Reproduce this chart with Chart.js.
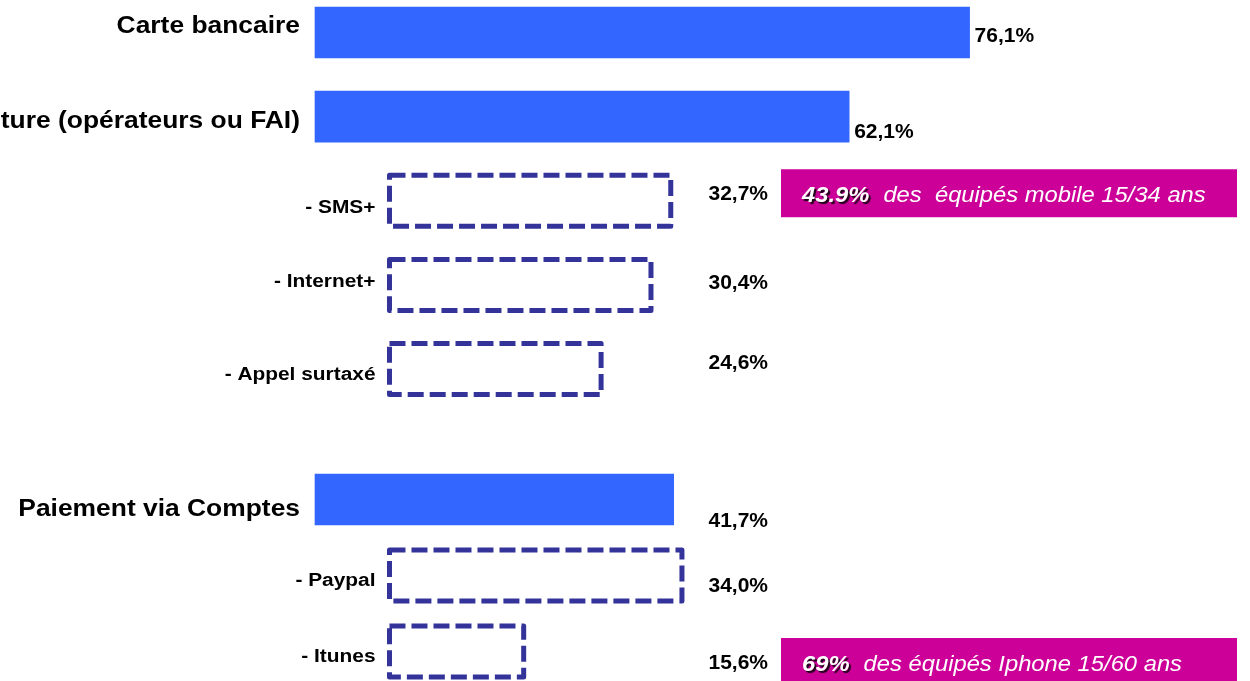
<!DOCTYPE html>
<html>
<head>
<meta charset="utf-8">
<script src="https://cdn.jsdelivr.net/npm/chart.js@4"></script>
<style>
  html, body { margin: 0; padding: 0; background: #fff; }
  #wrap { position: relative; width: 1250px; height: 681px; overflow: hidden; }
  #top-chart { position: absolute; left: 0; top: 0; }
  #bottom-chart { position: absolute; left: 0; top: 420px; }
</style>
</head>
<body>
<div id="wrap">
  <canvas id="top-chart" width="1250" height="420"></canvas>
  <canvas id="bottom-chart" width="1250" height="261"></canvas>
</div>
<script>
// Rows of the chart (solid bars = totals, dashed bars = details)
const categories = ['Carte bancaire', 'Facture (opérateurs ou FAI)', '- SMS+', '- Internet+', '- Appel surtaxé',
                    'Paiement via Comptes', '- Paypal', '- Itunes'];
const totals  = [76.1, 62.1, null, null, null, 41.7, null, null];
const details = [null, null, 32.7, 30.4, 24.6, null, 34.0, 15.6];
const groups  = [0, 0, 0, 0, 0, 1, 1, 1];

// Pink call-outs
const noteRows   = ['- SMS+', '- Itunes'];
const noteStrong = ['43.9%', '69%'];
const noteText   = ['des  équipés mobile 15/34 ans', 'des équipés Iphone 15/60 ans'];

const FONT = '"Liberation Sans", Arial, sans-serif';
const BLUE = '#3366FF';
const DASH = '#333399';
const PINK = '#CC0099';

// small vertical nudges (baseline vs bar centre), per row
const labelNudge = [0, 11, 12, 2, 11, 16, 10, 10];
const valueNudge = [9, 21, -1, 4, 0, 27, 16, 17];
const noteNudge = { '- SMS+': -31.5, '- Itunes': -13.5 };

function formatPct(v) {
    return v.toFixed(1).replace('.', ',') + '%';
}

function stretchText(ctx, text, x, y, font, sx, align) {
    ctx.save();
    ctx.font = font;
    ctx.textAlign = align;
    ctx.textBaseline = 'alphabetic';
    ctx.translate(x, y);
    ctx.scale(sx, 1);
    ctx.fillText(text, 0, 0);
    ctx.restore();
}

const rowLabels = {
    id: 'rowLabels',
    afterDatasetsDraw(chart, args, opts) {
        const ctx = chart.ctx;
        const rows = opts.rows;
        const solid = chart.getDatasetMeta(0).data;
        const dashed = chart.getDatasetMeta(1).data;
        const valueCol = 768;

        rows.forEach(function(i, k) {
            const isMain = totals[i] !== null;
            const el = isMain ? solid[k] : dashed[k];
            const p = el.getProps(['x', 'y', 'base', 'height'], true);

            // dashed outline for detail bars
            if (!isMain) {
                ctx.save();
                ctx.strokeStyle = DASH;
                ctx.lineWidth = 5;
                ctx.setLineDash([16, 6]);
                ctx.lineJoin = 'round';
                ctx.strokeRect(p.base, p.y - p.height / 2, p.x - p.base, p.height);
                ctx.restore();
            }

            // category label
            ctx.fillStyle = '#000';
            if (isMain) {
                stretchText(ctx, categories[i], p.base - 15, p.y + labelNudge[i],
                    'bold 24px ' + FONT, 1.1, 'right');
            } else {
                stretchText(ctx, categories[i], p.base - 14, p.y + labelNudge[i],
                    'bold 18px ' + FONT, 1.16, 'right');
            }

            // value label
            const txt = formatPct(isMain ? totals[i] : details[i]);
            ctx.save();
            ctx.font = 'bold 21px ' + FONT;
            ctx.fillStyle = '#000';
            ctx.textBaseline = 'alphabetic';
            const w = ctx.measureText(txt).width;
            if (p.x + 5 > valueCol - w) {
                ctx.textAlign = 'left';
                ctx.fillText(txt, p.x + 5, p.y + valueNudge[i]);
            } else {
                ctx.textAlign = 'right';
                ctx.fillText(txt, valueCol, p.y + valueNudge[i]);
            }
            ctx.restore();

            // pink call-out
            const n = noteRows.indexOf(categories[i]);
            if (n >= 0) {
                const top = p.y + noteNudge[categories[i]];
                ctx.save();
                ctx.fillStyle = PINK;
                ctx.fillRect(781, top, 456, 48);
                ctx.translate(802, top + 33);
                ctx.scale(1.08, 1);
                ctx.textBaseline = 'alphabetic';
                ctx.textAlign = 'left';
                ctx.font = 'italic bold 22px ' + FONT;
                ctx.shadowColor = 'rgba(0,0,0,0.85)';
                ctx.shadowOffsetX = 2;
                ctx.shadowOffsetY = 2;
                ctx.shadowBlur = 1;
                ctx.fillStyle = '#fff';
                ctx.fillText(noteStrong[n], 0, 0);
                const sw = ctx.measureText(noteStrong[n]).width;
                ctx.shadowColor = 'rgba(0,0,0,0)';
                ctx.font = 'italic 22px ' + FONT;
                ctx.fillText(noteText[n], sw + 13, 0);
                ctx.restore();
            }
        });
    }
};

function buildChart(canvasId, group, padding) {
    const rows = categories.map(function(c, i) { return i; })
                           .filter(function(i) { return groups[i] === group; });
    return new Chart(document.getElementById(canvasId), {
        type: 'bar',
        data: {
            labels: rows.map(function(i) { return categories[i]; }),
            datasets: [{
                label: 'Total',
                data: rows.map(function(i) { return totals[i]; }),
                xAxisID: 'x',
                backgroundColor: BLUE,
                borderWidth: 0,
                barThickness: 51,
                grouped: false,
                clip: false
            }, {
                label: 'Détail',
                data: rows.map(function(i) { return details[i]; }),
                xAxisID: 'x2',
                backgroundColor: 'rgba(0,0,0,0)',
                borderWidth: 0,
                barThickness: 51,
                grouped: false,
                clip: false
            }]
        },
        options: {
            indexAxis: 'y',
            responsive: false,
            animation: false,
            devicePixelRatio: 1,
            events: [],
            layout: { padding: padding },
            scales: {
                x:  { display: false, min: 0, max: 108.7 },
                x2: { display: false, min: -8.66, max: 100.04 },
                y:  { display: false, offset: false }
            },
            plugins: {
                legend: { display: false },
                tooltip: { enabled: false },
                rowLabels: { rows: rows }
            }
        },
        plugins: [rowLabels]
    });
}

buildChart('top-chart', 0, { left: 315, right: 0, top: 32.5, bottom: 51 });
buildChart('bottom-chart', 1, { left: 315, right: 0, top: 79.5, bottom: 29.5 });
</script>
</body>
</html>
